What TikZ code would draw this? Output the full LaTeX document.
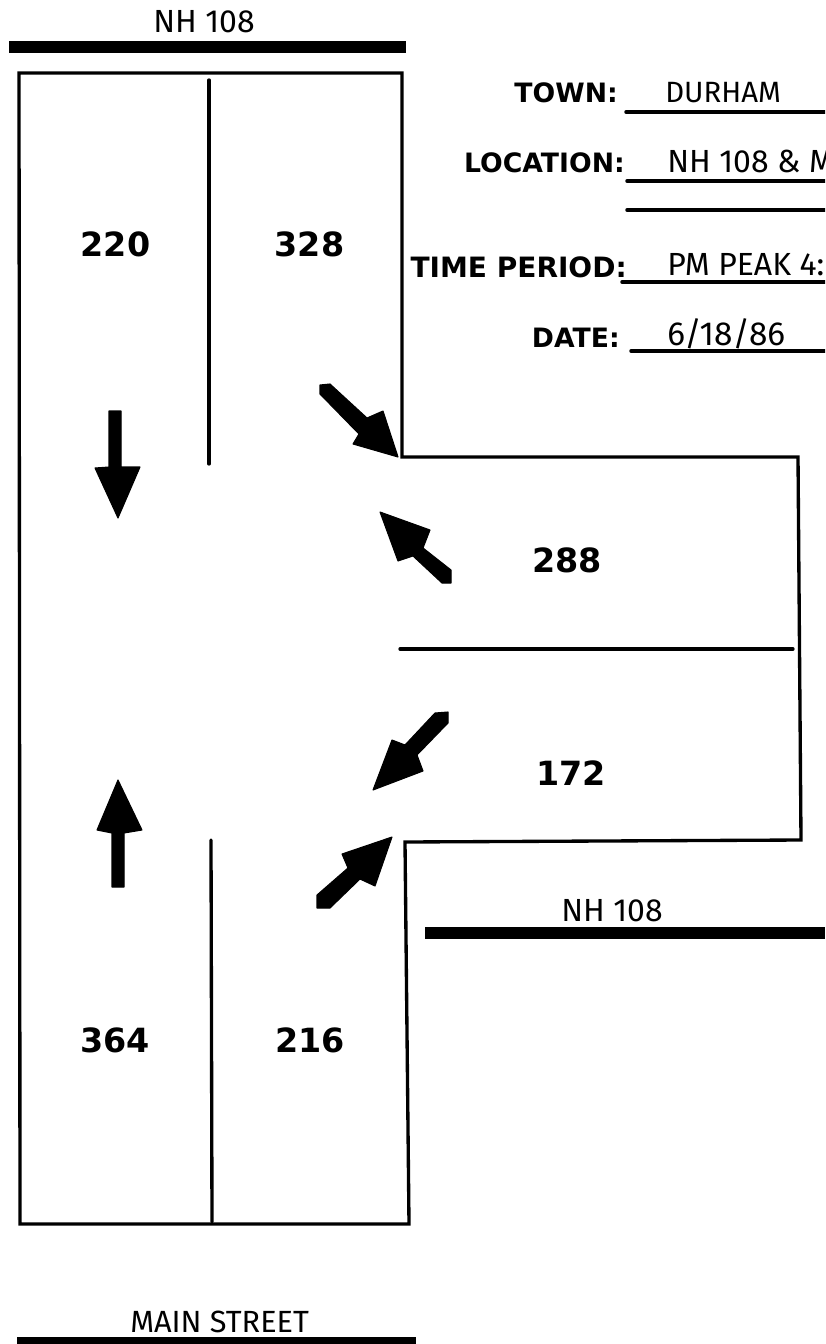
\documentclass[tikz,border=0pt]{standalone}
\usepackage{fontspec}
\setmainfont{Liberation Sans}
\newfontfamily\lblfont{DejaVu Sans}
\newfontfamily\plainfont{Fira Sans}
\newcommand{\fsz}[1]{\fontsize{#1}{#1}\selectfont}
\tikzset{
  road/.style={line width=2.5pt,line cap=round,line join=miter},
  bar/.style={line width=8.8pt},
  rule/.style={line width=2.6pt,line cap=round},
  arrowshape/.style={fill=black,draw=black,line width=0.8pt,line join=round},
  plainlabel/.style={font=\plainfont\fsz{24},inner sep=0pt,anchor=base west,text=black},
  formlabel/.style={font=\lblfont\bfseries\fsz{20},inner sep=0pt,anchor=base east,text=black},
  formvalue/.style={font=\plainfont\fsz{24},inner sep=0pt,anchor=base west,text=black},
  count/.style={font=\lblfont\bfseries\fsz{25},inner sep=0pt,anchor=base,text=black}
}
\begin{document}
\begin{tikzpicture}[x=0.75pt,y=-0.75pt]
\path[use as bounding box,fill=white] (0,0) rectangle (825,1344);
\clip (0,0) rectangle (825,1344);
% road outline
\draw[road] (19,73) -- (402,73) -- (402,457) -- (798,457) -- (801,840) -- (405,842) -- (409,1224) -- (20,1224) -- cycle;
\draw[road] (209,80) -- (209,464);
\draw[road] (211,840) -- (212,1222);
\draw[road] (400,649) -- (793,649);
% heavy bars
\draw[bar] (9,47) -- (406,47);
\draw[bar] (425,933) -- (825,933);
\draw[bar] (17,1343) -- (416,1343);
% arrows
\fill[arrowshape] (109,411) -- (121,411) -- (121,467) -- (140,467) -- (118,518) -- (95,468) -- (109,467) -- cycle;
\fill[arrowshape] (320,394) -- (320,385) -- (330,384) -- (367,418) -- (383,411) -- (398,457) -- (353,444) -- (359,434) -- cycle;
\fill[arrowshape] (380,512) -- (430,530) -- (423,548) -- (451,570) -- (451,583) -- (442,583) -- (413,556) -- (398,561) -- cycle;
\fill[arrowshape] (373,790) -- (392,740) -- (405,745) -- (435,713) -- (448,712) -- (448,723) -- (417,755) -- (423,771) -- cycle;
\fill[arrowshape] (118,780) -- (142,830) -- (124,833) -- (124,887) -- (112,887) -- (112,833) -- (97,830) -- cycle;
\fill[arrowshape] (392,837) -- (375,886) -- (360,879) -- (330,908) -- (317,908) -- (317,895) -- (348,868) -- (342,854) -- cycle;
% form rules
\draw[rule] (626,112) -- (825,112);
\draw[rule] (627,181) -- (825,181);
\draw[rule] (627,210) -- (825,210);
\draw[rule] (622,282) -- (825,282);
\draw[rule] (631,351) -- (825,351);
% texts
\node[plainlabel] (topname) at (153,33) {NH 108};
\node[plainlabel] (rightname) at (561,921) {NH 108};
\node[plainlabel,font=\plainfont\fsz{23}] (bottomname) at (130,1332) {MAIN STREET};
\node[formlabel] (town) at (618,103) {TOWN:};
\node[formlabel] (loc) at (625,173) {LOCATION:};
\node[formlabel,font=\lblfont\bfseries\fsz{21}] (time) at (627,278) {TIME PERIOD:};
\node[formlabel] (date) at (620,347) {DATE:};
\node[formvalue,font=\plainfont\fsz{22}] (durham) at (665,103) {DURHAM};
\node[formvalue] (locv) at (667,173) {NH 108 \& M};
\node[formvalue] (timev) at (667,276) {PM PEAK 4:};
\node[formvalue,font=\plainfont\fsz{25}] (datev) at (667,345) {6/18/86};
\node[count] (a) at (115.5,257) {220};
\node[count] (b) at (309.5,257) {328};
\node[count] (c) at (567,572) {288};
\node[count] (d) at (571,785) {172};
\node[count] (e) at (115,1052) {364};
\node[count] (f) at (310,1052) {216};
\end{tikzpicture}
\end{document}
